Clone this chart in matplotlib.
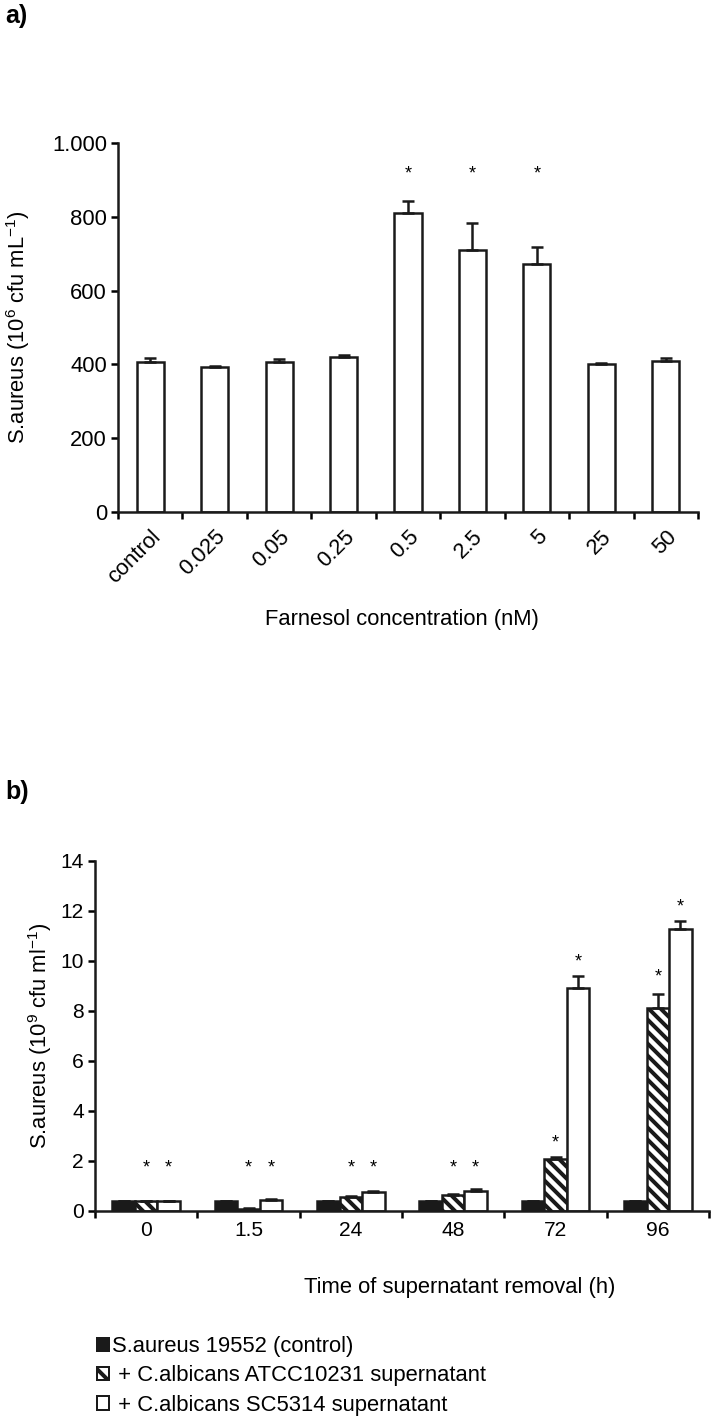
import matplotlib
matplotlib.use('Agg')
import matplotlib.pyplot as plt
import matplotlib.transforms as mtrans
from matplotlib.patches import Patch
import numpy as np

plt.rcParams['font.family'] = ['Liberation Sans', 'DejaVu Sans']
plt.rcParams['mathtext.fontset'] = 'custom'
plt.rcParams['mathtext.rm'] = 'Liberation Sans'
plt.rcParams['mathtext.it'] = 'Liberation Sans:italic'
plt.rcParams['hatch.linewidth'] = 4

# panel a - farnesol
conc_labels = ['control', '0.025', '0.05', '0.25', '0.5', '2.5', '5', '25', '50']
conc_vals = [407, 394, 407, 420, 810, 710, 672, 400, 408]
conc_err = [10, 3, 8, 5, 33, 74, 46, 3, 10]
conc_sig = [False, False, False, False, True, True, True, False, False]
a_yticks = [0, 200, 400, 600, 800, 1000]
a_yticklabels = ['0', '200', '400', '600', '800', '1.000']

# panel b - supernatant removal time
times = ['0', '1.5', '24', '48', '72', '96']
ctrl_vals = [0.38, 0.38, 0.38, 0.38, 0.38, 0.38]
ctrl_err = [0.02, 0.02, 0.02, 0.02, 0.02, 0.02]
atcc_vals = [0.38, 0.08, 0.55, 0.62, 2.05, 8.1]
atcc_err = [0.02, 0.01, 0.03, 0.05, 0.1, 0.56]
sc_vals = [0.38, 0.42, 0.75, 0.8, 8.9, 11.25]
sc_err = [0.02, 0.03, 0.04, 0.05, 0.48, 0.32]
atcc_star = [1.95, 1.95, 1.95, 1.95, 2.95, 9.6]
sc_star = [1.95, 1.95, 1.95, 1.95, 10.2, 12.4]
legend_labels = ['S.aureus 19552 (control)',
                 ' + C.albicans ATCC10231 supernatant',
                 ' + C.albicans SC5314 supernatant']

W, H = 712, 1428
fig = plt.figure(figsize=(W / 72, H / 72), dpi=72)
LW = 2.5
FS = 22


def style_axes(ax, tick_fs):
    for s in ['top', 'right']:
        ax.spines[s].set_visible(False)
    for s in ['left', 'bottom']:
        ax.spines[s].set_linewidth(LW)
        ax.spines[s].set_color('#1a1a1a')
    ax.tick_params(axis='y', direction='out', length=7, width=LW, labelsize=tick_fs, pad=4)
    ax.tick_params(axis='x', which='major', length=0, labelsize=tick_fs)
    ax.tick_params(axis='x', which='minor', direction='out', length=7, width=LW)


# ---- a)
ax1 = fig.add_axes([118 / W, 1 - 512 / H, 580 / W, 369 / H])
xa = np.arange(len(conc_labels))
ax1.bar(xa, conc_vals, width=0.42, color='white', edgecolor='#1a1a1a', linewidth=LW, zorder=2)
ax1.errorbar(xa, conc_vals, yerr=[np.zeros(len(xa)), conc_err], fmt='none', ecolor='#1a1a1a',
             elinewidth=LW, capsize=6, capthick=LW, zorder=3)
ax1.set_xlim(-0.5, len(xa) - 0.5)
ax1.set_ylim(0, 1000)
ax1.set_yticks(a_yticks)
ax1.set_yticklabels(a_yticklabels)
ax1.set_xticks(xa)
ax1.set_xticks(np.arange(len(xa) + 1) - 0.5, minor=True)
ax1.set_xticklabels(conc_labels, rotation=45, ha='right', va='top', rotation_mode='anchor')
style_axes(ax1, FS)
ax1.tick_params(axis='x', which='major', pad=14)
star_off = mtrans.offset_copy(ax1.transData, fig=fig, y=-6, units='dots')
for i, s in enumerate(conc_sig):
    if s:
        ax1.text(xa[i], 932, '*', ha='center', va='center', fontsize=18, transform=star_off)
ax1.set_ylabel('S.aureus (10$^{6}$ cfu mL$^{-1}$)', fontsize=FS)
ax1.yaxis.set_label_coords(-0.148, 0.5)
ax1.set_xlabel('Farnesol concentration (nM)', fontsize=FS)
ax1.xaxis.set_label_coords(0.49, -0.262)
fig.text(5 / W, 1 - 16 / H, 'a)', fontsize=25, fontweight='bold', va='center', ha='left')

# ---- b)
ax2 = fig.add_axes([95 / W, 1 - 1210.7 / H, 614 / W, 350 / H])
xb = np.arange(len(times))
bw = 0.22
ax2.bar(xb - bw, ctrl_vals, width=bw, color='#1a1a1a', edgecolor='#1a1a1a', linewidth=LW, zorder=2)
ax2.bar(xb, atcc_vals, width=bw, color='white', edgecolor='#1a1a1a', linewidth=LW,
        hatch='\\\\', zorder=2)
ax2.bar(xb + bw, sc_vals, width=bw, color='white', edgecolor='#1a1a1a', linewidth=LW, zorder=2)
for off, v, e in [(-bw, ctrl_vals, ctrl_err), (0, atcc_vals, atcc_err), (bw, sc_vals, sc_err)]:
    ax2.errorbar(xb + off, v, yerr=[np.zeros(len(xb)), e], fmt='none', ecolor='#1a1a1a',
                 elinewidth=LW, capsize=6, capthick=LW, zorder=3)
ax2.set_xlim(-0.5, len(xb) - 0.5)
ax2.set_ylim(0, 14)
ax2.set_yticks(np.arange(0, 15, 2))
ax2.set_xticks(xb)
ax2.set_xticks(np.arange(len(xb) + 1) - 0.5, minor=True)
ax2.set_xticklabels(times)
style_axes(ax2, 21)
ax2.tick_params(axis='x', which='major', pad=10)
star_off2 = mtrans.offset_copy(ax2.transData, fig=fig, y=-6, units='dots')
for i in range(len(xb)):
    ax2.text(xb[i], atcc_star[i], '*', ha='center', va='center', fontsize=18, transform=star_off2)
    ax2.text(xb[i] + bw, sc_star[i], '*', ha='center', va='center', fontsize=18, transform=star_off2)
ax2.set_ylabel('S.aureus (10$^{9}$ cfu ml$^{-1}$)', fontsize=FS)
ax2.yaxis.set_label_coords(-0.067, 0.5)
ax2.set_xlabel('Time of supernatant removal (h)', fontsize=FS)
ax2.xaxis.set_label_coords(0.594, -0.19)
fig.text(5 / W, 1 - 792 / H, 'b)', fontsize=25, fontweight='bold', va='center', ha='left')

handles = [Patch(facecolor='#1a1a1a', edgecolor='#1a1a1a', linewidth=2),
           Patch(facecolor='white', edgecolor='#1a1a1a', hatch='\\', linewidth=2),
           Patch(facecolor='white', edgecolor='#1a1a1a', linewidth=2)]
fig.legend(handles, legend_labels, loc='upper left', bbox_to_anchor=(97 / W, 1 - 1336 / H),
           frameon=False, fontsize=FS, handlelength=0.55, handleheight=0.55,
           handletextpad=0.15, labelspacing=0.38, borderpad=0, borderaxespad=0)

fig.savefig('out.png', dpi=72, facecolor='white')
